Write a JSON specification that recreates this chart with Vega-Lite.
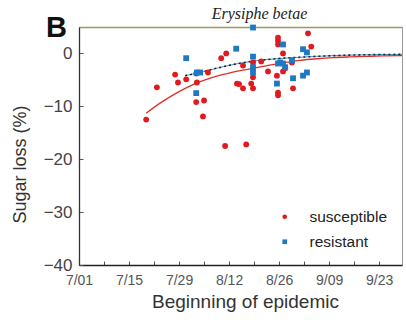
{
  "$schema": "https://vega.github.io/schema/vega-lite/v6.json",
  "width": 323,
  "height": 238,
  "autosize": {"type": "none"},
  "padding": {"left": 79, "top": 27, "right": 4, "bottom": 55},
  "background": "white",
  "config": {
    "view": {"stroke": "#9a9a9a", "strokeWidth": 1},
    "font": "Liberation Sans"
  },
  "title": {
    "text": "B",
    "anchor": "start",
    "frame": "bounds",
    "fontSize": 29,
    "fontWeight": "bold",
    "font": "Liberation Sans",
    "color": "#111",
    "dx": 35,
    "dy": 38,
    "offset": 0
  },
  "datasets": {
    "pts": [
      {"day": 18.8, "loss": -12.5, "cultivar": "susceptible"},
      {"day": 21.8, "loss": -6.4, "cultivar": "susceptible"},
      {"day": 26.9, "loss": -4.0, "cultivar": "susceptible"},
      {"day": 27.7, "loss": -5.5, "cultivar": "susceptible"},
      {"day": 30.0, "loss": -4.9, "cultivar": "susceptible"},
      {"day": 33.0, "loss": -5.5, "cultivar": "susceptible"},
      {"day": 32.8, "loss": -3.8, "cultivar": "susceptible"},
      {"day": 36.1, "loss": -3.6, "cultivar": "susceptible"},
      {"day": 32.8, "loss": -9.2, "cultivar": "susceptible"},
      {"day": 35.0, "loss": -8.9, "cultivar": "susceptible"},
      {"day": 34.7, "loss": -11.9, "cultivar": "susceptible"},
      {"day": 39.8, "loss": -0.9, "cultivar": "susceptible"},
      {"day": 41.2, "loss": 0.0, "cultivar": "susceptible"},
      {"day": 44.2, "loss": -5.7, "cultivar": "susceptible"},
      {"day": 44.8, "loss": -5.8, "cultivar": "susceptible"},
      {"day": 45.9, "loss": -6.6, "cultivar": "susceptible"},
      {"day": 48.2, "loss": -5.7, "cultivar": "susceptible"},
      {"day": 48.7, "loss": -6.6, "cultivar": "susceptible"},
      {"day": 48.7, "loss": -1.7, "cultivar": "susceptible"},
      {"day": 48.7, "loss": -4.5, "cultivar": "susceptible"},
      {"day": 51.0, "loss": -1.5, "cultivar": "susceptible"},
      {"day": 52.9, "loss": -3.4, "cultivar": "susceptible"},
      {"day": 40.9, "loss": -17.5, "cultivar": "susceptible"},
      {"day": 46.8, "loss": -17.2, "cultivar": "susceptible"},
      {"day": 55.7, "loss": 3.0, "cultivar": "susceptible"},
      {"day": 55.7, "loss": 2.4, "cultivar": "susceptible"},
      {"day": 55.7, "loss": 1.7, "cultivar": "susceptible"},
      {"day": 57.1, "loss": 0.0, "cultivar": "susceptible"},
      {"day": 55.4, "loss": -4.2, "cultivar": "susceptible"},
      {"day": 55.7, "loss": -7.4, "cultivar": "susceptible"},
      {"day": 55.7, "loss": -7.9, "cultivar": "susceptible"},
      {"day": 57.1, "loss": -3.4, "cultivar": "susceptible"},
      {"day": 57.7, "loss": -2.8, "cultivar": "susceptible"},
      {"day": 59.9, "loss": -6.6, "cultivar": "susceptible"},
      {"day": 64.1, "loss": 3.8, "cultivar": "susceptible"},
      {"day": 65.0, "loss": 1.3, "cultivar": "susceptible"},
      {"day": 59.6, "loss": -1.7, "cultivar": "susceptible"},
      {"day": 45.9, "loss": -2.3, "cultivar": "susceptible"},
      {"day": 30.0, "loss": -0.9, "cultivar": "resistant"},
      {"day": 32.8, "loss": -7.5, "cultivar": "resistant"},
      {"day": 33.0, "loss": -3.6, "cultivar": "resistant"},
      {"day": 33.9, "loss": -3.6, "cultivar": "resistant"},
      {"day": 44.0, "loss": 0.9, "cultivar": "resistant"},
      {"day": 48.7, "loss": 4.9, "cultivar": "resistant"},
      {"day": 48.7, "loss": -0.6, "cultivar": "resistant"},
      {"day": 48.7, "loss": -2.6, "cultivar": "resistant"},
      {"day": 48.7, "loss": -3.6, "cultivar": "resistant"},
      {"day": 57.1, "loss": 1.7, "cultivar": "resistant"},
      {"day": 56.3, "loss": -1.7, "cultivar": "resistant"},
      {"day": 57.1, "loss": -1.9, "cultivar": "resistant"},
      {"day": 57.7, "loss": -2.6, "cultivar": "resistant"},
      {"day": 55.4, "loss": -5.7, "cultivar": "resistant"},
      {"day": 59.6, "loss": -1.3, "cultivar": "resistant"},
      {"day": 59.9, "loss": -4.7, "cultivar": "resistant"},
      {"day": 62.7, "loss": 0.8, "cultivar": "resistant"},
      {"day": 63.8, "loss": 0.2, "cultivar": "resistant"},
      {"day": 62.7, "loss": -4.2, "cultivar": "resistant"},
      {"day": 63.8, "loss": -3.6, "cultivar": "resistant"},
      {"day": 55.7, "loss": -1.9, "cultivar": "resistant"}
    ],
    "fitS": [
      {"day": 18.8, "loss": -11.3}, {"day": 22.7, "loss": -9.4}, {"day": 27, "loss": -7.6},
      {"day": 31.9, "loss": -5.9}, {"day": 36.5, "loss": -4.7}, {"day": 41.4, "loss": -3.8},
      {"day": 45.5, "loss": -3.2}, {"day": 49.8, "loss": -2.7}, {"day": 52.6, "loss": -2.3},
      {"day": 57, "loss": -1.8}, {"day": 61.9, "loss": -1.3}, {"day": 66.5, "loss": -1.0},
      {"day": 71.1, "loss": -0.78}, {"day": 75.8, "loss": -0.65}, {"day": 80.6, "loss": -0.55},
      {"day": 85, "loss": -0.47}, {"day": 90.4, "loss": -0.4}
    ],
    "fitR": [
      {"day": 29.7, "loss": -4.2}, {"day": 33.9, "loss": -3.6}, {"day": 38.5, "loss": -2.8},
      {"day": 43.1, "loss": -2.1}, {"day": 47.8, "loss": -1.55}, {"day": 52.6, "loss": -1.15},
      {"day": 57.2, "loss": -0.9}, {"day": 61.9, "loss": -0.72}, {"day": 66.5, "loss": -0.55},
      {"day": 71.1, "loss": -0.42}, {"day": 75.8, "loss": -0.32}, {"day": 80.6, "loss": -0.25},
      {"day": 85, "loss": -0.2}, {"day": 90.4, "loss": -0.18}
    ]
  },
  "resolve": {"axis": {"x": "independent"}},
  "layer": [
    {
      "mark": {"type": "rule", "color": "#4a4a3c", "strokeWidth": 1.3},
      "encoding": {"y": {"datum": 0, "type": "quantitative", "scale": {"domain": [-40, 5], "nice": false, "zero": false}}}
    },
    {
      "data": {"name": "fitS"},
      "mark": {"type": "line", "color": "#e0302a", "strokeWidth": 1.3, "interpolate": "monotone"},
      "encoding": {
        "x": {"field": "day", "type": "quantitative", "scale": {"domain": [0, 90.4], "nice": false, "zero": false}, "axis": null},
        "y": {"field": "loss", "type": "quantitative"}
      }
    },
    {
      "data": {"name": "fitR"},
      "mark": {"type": "line", "color": "#3a9ad0", "strokeWidth": 1, "interpolate": "monotone"},
      "encoding": {
        "x": {"field": "day", "type": "quantitative", "axis": {
          "orient": "top", "title": "Erysiphe betae", "labels": false, "ticks": false, "grid": false,
          "domainColor": "#9a9a62", "domainWidth": 1.5,
          "titleFont": "Liberation Serif", "titleFontStyle": "italic", "titleFontWeight": "normal",
          "titleFontSize": 16, "titleColor": "#222", "titlePadding": 6,
          "titleX": 180, "titleAlign": "center", "titleAnchor": "middle"
        }},
        "y": {"field": "loss", "type": "quantitative"}
      }
    },
    {
      "data": {"name": "fitR"},
      "mark": {"type": "line", "color": "#222", "strokeWidth": 1.6, "strokeDash": [2, 3], "interpolate": "monotone"},
      "encoding": {
        "x": {"field": "day", "type": "quantitative", "axis": null},
        "y": {"field": "loss", "type": "quantitative"}
      }
    },
    {
      "data": {"name": "pts"},
      "mark": {"type": "point", "filled": true, "size": 34, "opacity": 1},
      "encoding": {
        "x": {"field": "day", "type": "quantitative", "axis": {
          "orient": "bottom", "title": "Beginning of epidemic",
          "values": [0, 7, 14, 21, 28, 35, 42, 49, 56, 63, 70, 77, 84],
          "labelExpr": "datum.value % 14 == 0 ? ['7/01','7/15','7/29','8/12','8/26','9/09','9/23'][datum.value / 14] : ''",
          "tickSize": -4, "tickColor": "#555", "labelPadding": 12,
          "labelFontSize": 14, "labelColor": "#555", "labelFlush": false,
          "domainColor": "#222", "domainWidth": 1.3, "grid": false,
          "titleFontSize": 19, "titleFontWeight": "normal", "titleColor": "#333", "titlePadding": 5,
          "titleX": 166, "titleAlign": "center", "titleAnchor": "middle"
        }},
        "y": {"field": "loss", "type": "quantitative", "axis": {
          "values": [-40, -35, -30, -25, -20, -15, -10, -5, 0],
          "labelExpr": "datum.value % 10 == 0 ? datum.label : ''",
          "tickSize": -4, "tickColor": "#555", "labelPadding": 11,
          "labelFontSize": 17, "labelColor": "#444",
          "domainColor": "#333", "domainWidth": 1.3, "grid": false,
          "title": "Sugar loss (%)", "titleFontSize": 18, "titleFontWeight": "normal", "titleColor": "#333",
          "titleX": -50, "titleY": 137, "titleAlign": "center", "titleAnchor": "middle"
        }},
        "color": {"field": "cultivar", "type": "nominal",
          "scale": {"domain": ["susceptible", "resistant"], "range": ["#e01b1f", "#1f78c4"]},
          "legend": {"orient": "bottom-right", "offset": 9, "padding": 5, "title": null, "labelFontSize": 15.5, "labelColor": "#222",
            "symbolSize": 22, "labelOffset": 17, "rowPadding": 8}},
        "shape": {"field": "cultivar", "type": "nominal",
          "scale": {"domain": ["susceptible", "resistant"], "range": ["circle", "square"]}}
      }
    }
  ]
}
